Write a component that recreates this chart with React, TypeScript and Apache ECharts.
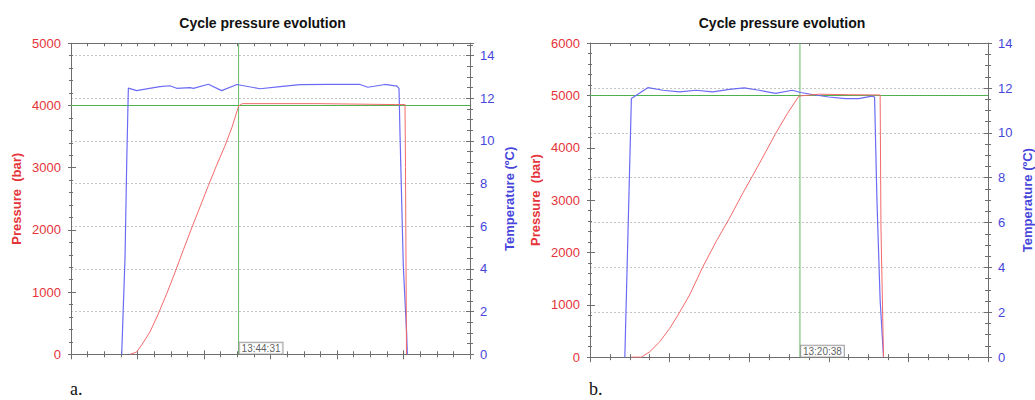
import React, { useEffect, useRef } from "react";
import * as echarts from "echarts";

// ---------- Texts ----------
const TITLE = "Cycle pressure evolution";
const PRESSURE_NAME = "Pressure  (bar)";
const TEMP_NAME = "Temperature (ºC)";
const PANEL_LABELS = ["a.", "b."];

// ---------- Panel a ----------
const tempTimeA = [3.05, 3.25, 3.35, 3.45, 3.95, 4.55, 5.35, 5.95, 6.36, 7.16, 7.36, 8.26, 9.06, 9.98, 11.37, 12.57, 13.77, 15.58, 17.38, 17.86, 18.89, 19.61, 19.73, 19.79, 19.99, 20.19, 20.23];
const tempValA = [0, 4.55, 8.93, 12.48, 12.36, 12.44, 12.55, 12.59, 12.47, 12.5, 12.47, 12.66, 12.36, 12.65, 12.45, 12.55, 12.64, 12.65, 12.65, 12.52, 12.65, 12.57, 12.45, 10.33, 4.09, 0.97, 0];
const presTimeA = [3.55, 3.95, 4.25, 4.75, 5.25, 5.76, 6.26, 6.76, 7.26, 7.76, 8.26, 8.76, 9.26, 9.67, 10.08, 10.3, 14.8, 19.5, 20.09, 20.12, 20.18];
const presValA = [0, 37, 150, 360, 650, 975, 1320, 1680, 2030, 2370, 2710, 3040, 3350, 3640, 3990, 4030, 4030, 4015, 4015, 3000, 0];
const cursorTimeA = 10.08;
const cursorPressureA = 4000;
const cursorLabelA = "13:44:31";
const xMaxA = 24;
const pMaxA = 5000;
const tMaxA = 14.58;

// ---------- Panel b ----------
const tempTimeB = [1.75, 2.08, 2.92, 3.67, 4.5, 5.33, 6.17, 7.0, 7.75, 8.5, 9.33, 10.17, 10.58, 11.17, 12.0, 12.83, 13.5, 14.17, 14.3, 14.42, 14.58, 14.75];
const tempValB = [0, 11.53, 12.02, 11.9, 11.83, 11.9, 11.83, 11.94, 12.01, 11.9, 11.76, 11.9, 11.8, 11.71, 11.6, 11.53, 11.53, 11.64, 11.6, 6.98, 2.54, 0];
const presTimeB = [2.08, 2.58, 3.0, 3.5, 4.0, 4.42, 5.0, 5.67, 6.33, 7.0, 7.67, 8.25, 8.83, 9.33, 9.92, 10.5, 11.5, 13.0, 14.58, 14.62, 14.75];
const presValB = [0, 0, 103, 293, 548, 803, 1185, 1726, 2204, 2650, 3128, 3520, 3924, 4275, 4657, 4990, 5025, 5015, 5010, 2500, 0];
const cursorTimeB = 10.55;
const cursorPressureB = 5000;
const cursorLabelB = "13:20:38";
const xMaxB = 20;
const pMaxB = 6000;
const tMaxB = 14;

// ---------- Styles ----------
const RED_LINE = "#f26a6a";
const BLUE_LINE = "#6b6bf5";
const RED_TEXT = "#e5333a";
const BLUE_TEXT = "#4646dc";
const GREEN_V = "#66bb66";
const GREEN_H = "#4fb04f";
const AXIS = "#6e6e6e";
const FONT = "'Liberation Sans', Arial, sans-serif";

const zip = (xs: number[], ys: number[]) => xs.map((x, i) => [x, ys[i]]);

interface Panel {
  grid: { left: number; top: number; width: number; height: number };
  tempT: number[];
  tempV: number[];
  presT: number[];
  presV: number[];
  cursorT: number;
  cursorP: number;
  cursorLabel: string;
  xMax: number;
  pMax: number;
  tMax: number;
}

const panels: Panel[] = [
  {
    grid: { left: 71, top: 43.3, width: 399, height: 311 },
    tempT: tempTimeA, tempV: tempValA, presT: presTimeA, presV: presValA,
    cursorT: cursorTimeA, cursorP: cursorPressureA, cursorLabel: cursorLabelA,
    xMax: xMaxA, pMax: pMaxA, tMax: tMaxA,
  },
  {
    grid: { left: 590, top: 43.17, width: 400, height: 314 },
    tempT: tempTimeB, tempV: tempValB, presT: presTimeB, presV: presValB,
    cursorT: cursorTimeB, cursorP: cursorPressureB, cursorLabel: cursorLabelB,
    xMax: xMaxB, pMax: pMaxB, tMax: tMaxB,
  },
];

function buildOption() {
  const grids: any[] = [];
  const xAxes: any[] = [];
  const yAxes: any[] = [];
  const series: any[] = [];
  const graphics: any[] = [];

  panels.forEach((p, g) => {
    grids.push({ ...p.grid, containLabel: false });
    const axisLine = { show: true, onZero: false, lineStyle: { color: AXIS, width: 1 } };
    const baseX = {
      type: "value",
      gridIndex: g,
      min: 0,
      max: p.xMax,
      interval: 4,
      axisLabel: { show: false },
      splitLine: { show: false },
      axisLine,
    };
    xAxes.push({
      ...baseX,
      position: "bottom",
      axisTick: { show: true, inside: false, length: 5, lineStyle: { color: AXIS } },
      minorTick: { show: true, splitNumber: 4, length: 3, lineStyle: { color: AXIS } },
    });
    xAxes.push({
      ...baseX,
      position: "bottom",
      axisTick: { show: true, inside: true, length: 4, lineStyle: { color: AXIS } },
      minorTick: { show: true, splitNumber: 4, length: 3, lineStyle: { color: AXIS } },
    });
    xAxes.push({
      ...baseX,
      position: "top",
      axisTick: { show: true, inside: true, length: 3, lineStyle: { color: AXIS } },
      minorTick: { show: true, splitNumber: 4, length: 3, lineStyle: { color: AXIS } },
    });

    const pBase = {
      type: "value",
      gridIndex: g,
      min: 0,
      max: p.pMax,
      interval: 1000,
      splitLine: { show: false },
      axisLine,
    };
    yAxes.push({
      ...pBase,
      position: "left",
      name: PRESSURE_NAME,
      nameLocation: "middle",
      nameRotate: 90,
      nameGap: 48,
      nameTextStyle: { color: RED_TEXT, fontWeight: "bold", fontSize: 13, fontFamily: FONT },
      axisLabel: {
        show: true,
        color: RED_TEXT,
        fontSize: 13,
        fontFamily: FONT,
        margin: 10,
        formatter: (v: number) => String(v),
      },
      axisTick: { show: true, inside: false, length: 3, lineStyle: { color: AXIS } },
      minorTick: { show: true, splitNumber: 5, length: 2, lineStyle: { color: AXIS } },
    });
    yAxes.push({
      ...pBase,
      position: "left",
      axisLabel: { show: false },
      axisTick: { show: true, inside: true, length: 5, lineStyle: { color: AXIS } },
      minorTick: { show: true, splitNumber: 5, length: 2, lineStyle: { color: AXIS } },
    });
    const tBase = {
      type: "value",
      gridIndex: g,
      min: 0,
      max: p.tMax,
      interval: 2,
      axisLine,
    };
    yAxes.push({
      ...tBase,
      position: "right",
      name: TEMP_NAME,
      nameLocation: "middle",
      nameRotate: 90,
      nameGap: 33,
      nameTextStyle: { color: BLUE_TEXT, fontWeight: "bold", fontSize: 13, fontFamily: FONT },
      axisLabel: {
        show: true,
        color: BLUE_TEXT,
        fontSize: 13,
        fontFamily: FONT,
        margin: 10,
        formatter: (v: number) => (Math.abs(v % 2) < 1e-9 ? String(v) : ""),
      },
      splitLine: { show: true, lineStyle: { color: "#c4c4c4", type: [2, 2], width: 1 } },
      axisTick: { show: true, inside: false, length: 4, lineStyle: { color: AXIS } },
      minorTick: { show: true, splitNumber: 4, length: 3, lineStyle: { color: AXIS } },
    });
    yAxes.push({
      ...tBase,
      position: "right",
      axisLabel: { show: false },
      splitLine: { show: false },
      axisTick: { show: true, inside: true, length: 4, lineStyle: { color: AXIS } },
      minorTick: { show: true, splitNumber: 4, length: 3, lineStyle: { color: AXIS } },
    });

    const xi = g * 3;
    const yi = g * 4;
    series.push({
      type: "line",
      xAxisIndex: xi,
      yAxisIndex: yi,
      data: [[p.cursorT, 0], [p.cursorT, p.pMax]],
      showSymbol: false,
      symbol: "none",
      silent: true,
      lineStyle: { color: GREEN_V, width: 1 },
      z: 1,
    });
    series.push({
      type: "line",
      xAxisIndex: xi,
      yAxisIndex: yi,
      data: [[0, p.cursorP], [p.xMax, p.cursorP]],
      showSymbol: false,
      symbol: "none",
      silent: true,
      lineStyle: { color: GREEN_H, width: 1 },
      z: 1,
    });
    series.push({
      type: "line",
      name: "Temperature",
      xAxisIndex: xi,
      yAxisIndex: yi + 2,
      data: zip(p.tempT, p.tempV),
      showSymbol: false,
      symbol: "none",
      lineStyle: { color: BLUE_LINE, width: 1.2 },
      z: 2,
    });
    series.push({
      type: "line",
      name: "Pressure",
      xAxisIndex: xi,
      yAxisIndex: yi,
      data: zip(p.presT, p.presV),
      showSymbol: false,
      symbol: "none",
      lineStyle: { color: RED_LINE, width: 1 },
      z: 3,
    });
    series.push({
      type: "scatter",
      xAxisIndex: xi,
      yAxisIndex: yi,
      data: [[p.cursorT, 0]],
      symbolSize: 0,
      clip: false,
      silent: true,
      z: 5,
      label: {
        show: true,
        formatter: p.cursorLabel,
        position: "right",
        distance: 1,
        offset: [0, -6],
        color: "#333",
        fontSize: 10,
        fontFamily: FONT,
        backgroundColor: "#fff",
        borderColor: "#8a8a8a",
        borderWidth: 1,
        padding: [1, 2, 0, 2],
      },
    });

    graphics.push({
      type: "text",
      x: p.grid.left + p.grid.width * 0.48,
      y: 23,
      style: {
        text: TITLE,
        fill: "#111",
        font: `bold 14px ${FONT}`,
        align: "center",
        verticalAlign: "middle",
      },
    });
    graphics.push({
      type: "text",
      x: p.grid.left - 1,
      y: 398,
      style: {
        text: PANEL_LABELS[g],
        fill: "#111",
        font: "18px 'Liberation Serif', 'DejaVu Serif', serif",
        align: "left",
        verticalAlign: "bottom",
      },
    });
  });

  return {
    animation: false,
    backgroundColor: "#ffffff",
    grid: grids,
    xAxis: xAxes,
    yAxis: yAxes,
    series,
    graphic: graphics,
  };
}

export default function App() {
  const ref = useRef<HTMLDivElement>(null);
  useEffect(() => {
    if (!ref.current) return;
    const chart = echarts.init(ref.current, undefined, { renderer: "svg" });
    chart.setOption(buildOption() as any);
    return () => chart.dispose();
  }, []);
  return (
    <div
      ref={ref}
      style={{ position: "absolute", left: 0, top: 0, width: 1035, height: 400, background: "#fff" }}
    />
  );
}
